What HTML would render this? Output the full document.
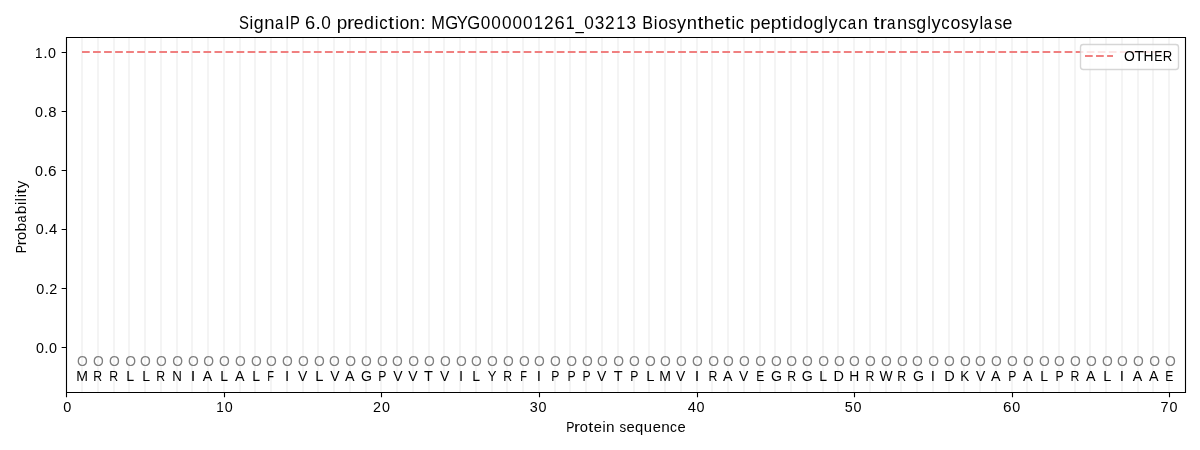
<!DOCTYPE html>
<html><head><meta charset="utf-8"><title>SignalP 6.0 prediction: MGYG000001261_03213</title>
<style>
html,body{margin:0;padding:0;background:#fff;width:1200px;height:450px;overflow:hidden}
svg{display:block;will-change:transform}
text{font-family:"Liberation Sans",sans-serif}
</style></head><body>
<svg width="1200" height="450" viewBox="0 0 1200 450" font-family="'Liberation Sans', sans-serif">
<rect width="1200" height="450" fill="#ffffff"/>
<path d="M82 37V392M98 37V392M114 37V392M129 37V392M145 37V392M161 37V392M177 37V392M192 37V392M208 37V392M224 37V392M240 37V392M255 37V392M271 37V392M287 37V392M303 37V392M318 37V392M334 37V392M350 37V392M366 37V392M381 37V392M397 37V392M413 37V392M429 37V392M444 37V392M460 37V392M476 37V392M492 37V392M507 37V392M523 37V392M539 37V392M555 37V392M570 37V392M586 37V392M602 37V392M618 37V392M634 37V392M649 37V392M665 37V392M681 37V392M697 37V392M712 37V392M728 37V392M744 37V392M760 37V392M775 37V392M791 37V392M807 37V392M823 37V392M838 37V392M854 37V392M870 37V392M886 37V392M901 37V392M917 37V392M933 37V392M949 37V392M964 37V392M980 37V392M996 37V392M1012 37V392M1027 37V392M1043 37V392M1059 37V392M1075 37V392M1090 37V392M1106 37V392M1122 37V392M1138 37V392M1153 37V392M1169 37V392" stroke="#f4f4f4" stroke-width="2.083" fill="none"/>
<path d="M82 52H1169" stroke="#f08080" stroke-width="2.083" stroke-dasharray="7.708 3.333" fill="none"/>
<path d="M66.5 392.5V37.5M1185.5 392.5V37.5M66.5 392.5H1185.5M66.5 37.5H1185.5" stroke="#000" stroke-width="1.111" stroke-linecap="square" fill="none"/>
<path d="M66.5 392.5v4.861M224.5 392.5v4.861M381.5 392.5v4.861M539.5 392.5v4.861M697.5 392.5v4.861M854.5 392.5v4.861M1012.5 392.5v4.861M1169.5 392.5v4.861M66.5 347.5h-4.861M66.5 288.5h-4.861M66.5 229.5h-4.861M66.5 170.5h-4.861M66.5 111.5h-4.861M66.5 52.5h-4.861" stroke="#000" stroke-width="1.111" fill="none"/>
<g transform="scale(1.3888889)">
<text font-size="10" text-anchor="middle" transform="translate(47.72 296.638) translate(0.769 -3.57) scale(1.0416 1.0652) translate(-0.032 3.438)">0</text>
<text font-size="10" transform="translate(161.168 296.638) translate(0.302 -3.57) scale(1 1.0652) translate(0 3.438)"><tspan x="-5.869" textLength="5.37" lengthAdjust="spacingAndGlyphs">1</tspan><tspan x="0.3" textLength="5.735" lengthAdjust="spacingAndGlyphs">0</tspan></text>
<text font-size="10" transform="translate(274.616 296.638) translate(0.202 -3.57) scale(1 1.0652) translate(0 3.438)"><tspan x="-6.218" textLength="5.747" lengthAdjust="spacingAndGlyphs">2</tspan><tspan x="0.3" textLength="5.735" lengthAdjust="spacingAndGlyphs">0</tspan></text>
<text font-size="10" transform="translate(388.064 296.638) translate(-0.675 -3.57) scale(1 1.0652) translate(0 3.438)"><tspan x="-6.057" textLength="5.741" lengthAdjust="spacingAndGlyphs">3</tspan><tspan x="0.3" textLength="5.735" lengthAdjust="spacingAndGlyphs">0</tspan></text>
<text font-size="10" transform="translate(501.512 296.638) translate(-0.353 -3.57) scale(1 1.0652) translate(0 3.438)"><tspan x="-6.056" textLength="5.899" lengthAdjust="spacingAndGlyphs">4</tspan><tspan x="0.3" textLength="5.735" lengthAdjust="spacingAndGlyphs">0</tspan></text>
<text font-size="10" transform="translate(614.959 296.638) translate(-0.706 -3.57) scale(1 1.0652) translate(0 3.438)"><tspan x="-6.057" textLength="5.741" lengthAdjust="spacingAndGlyphs">5</tspan><tspan x="0.3" textLength="5.735" lengthAdjust="spacingAndGlyphs">0</tspan></text>
<text font-size="10" transform="translate(728.407 296.638) translate(0.071 -3.57) scale(1 1.0652) translate(0 3.438)"><tspan x="-6.25" textLength="6.118" lengthAdjust="spacingAndGlyphs">6</tspan><tspan x="0.3" textLength="5.735" lengthAdjust="spacingAndGlyphs">0</tspan></text>
<text font-size="10" transform="translate(841.855 296.638) translate(-0.171 -3.57) scale(1 1.0652) translate(0 3.438)"><tspan x="-6.062" textLength="5.747" lengthAdjust="spacingAndGlyphs">7</tspan><tspan x="0.3" textLength="5.735" lengthAdjust="spacingAndGlyphs">0</tspan></text>
<text font-size="10" transform="translate(450.46 310.317) translate(0.252 -2.172) scale(1 1.0328) translate(0 2.578)"><tspan x="-42.942" textLength="5.908" lengthAdjust="spacingAndGlyphs">P</tspan><tspan x="-37.371" textLength="4.31" lengthAdjust="spacingAndGlyphs">r</tspan><tspan x="-33.28" textLength="5.92" lengthAdjust="spacingAndGlyphs">o</tspan><tspan x="-27.148" textLength="3.55" lengthAdjust="spacingAndGlyphs">t</tspan><tspan x="-23.251" textLength="5.92" lengthAdjust="spacingAndGlyphs">e</tspan><tspan x="-16.929" textLength="2.222" lengthAdjust="spacingAndGlyphs">i</tspan><tspan x="-14.376" textLength="6.157" lengthAdjust="spacingAndGlyphs">n</tspan><tspan x="-8.134"> </tspan><tspan x="-4.641" textLength="4.828" lengthAdjust="spacingAndGlyphs">s</tspan><tspan x="0.382" textLength="5.92" lengthAdjust="spacingAndGlyphs">e</tspan><tspan x="6.528" textLength="5.932" lengthAdjust="spacingAndGlyphs">q</tspan><tspan x="12.845" textLength="5.959" lengthAdjust="spacingAndGlyphs">u</tspan><tspan x="19.201" textLength="5.92" lengthAdjust="spacingAndGlyphs">e</tspan><tspan x="25.301" textLength="6.157" lengthAdjust="spacingAndGlyphs">n</tspan><tspan x="31.699" textLength="5" lengthAdjust="spacingAndGlyphs">c</tspan><tspan x="37.172" textLength="5.92" lengthAdjust="spacingAndGlyphs">e</tspan></text>
<text font-size="10" transform="translate(40.72 253.944) translate(0.696 -3.578) scale(1 1.0652) translate(0 3.438)"><tspan x="-15.591" textLength="5.735" lengthAdjust="spacingAndGlyphs">0</tspan><tspan x="-9.493" textLength="3.175" lengthAdjust="spacingAndGlyphs">.</tspan><tspan x="-6.06" textLength="5.735" lengthAdjust="spacingAndGlyphs">0</tspan></text>
<text font-size="10" transform="translate(40.72 211.418) translate(0.948 -3.525) scale(1 1.0652) translate(0 3.438)"><tspan x="-15.591" textLength="5.735" lengthAdjust="spacingAndGlyphs">0</tspan><tspan x="-9.493" textLength="3.175" lengthAdjust="spacingAndGlyphs">.</tspan><tspan x="-6.222" textLength="5.747" lengthAdjust="spacingAndGlyphs">2</tspan></text>
<text font-size="10" transform="translate(40.72 168.891) translate(0.675 -3.769) scale(1 1.0652) translate(0 3.438)"><tspan x="-15.591" textLength="5.735" lengthAdjust="spacingAndGlyphs">0</tspan><tspan x="-9.493" textLength="3.175" lengthAdjust="spacingAndGlyphs">.</tspan><tspan x="-6.059" textLength="5.899" lengthAdjust="spacingAndGlyphs">4</tspan></text>
<text font-size="10" transform="translate(40.72 126.364) translate(0.091 -3.507) scale(1 1.0652) translate(0 3.438)"><tspan x="-15.591" textLength="5.735" lengthAdjust="spacingAndGlyphs">0</tspan><tspan x="-9.493" textLength="3.175" lengthAdjust="spacingAndGlyphs">.</tspan><tspan x="-6.253" textLength="6.118" lengthAdjust="spacingAndGlyphs">6</tspan></text>
<text font-size="10" transform="translate(40.72 83.838) translate(0.081 -3.135) scale(1 1.0652) translate(0 3.438)"><tspan x="-15.591" textLength="5.735" lengthAdjust="spacingAndGlyphs">0</tspan><tspan x="-9.493" textLength="3.175" lengthAdjust="spacingAndGlyphs">.</tspan><tspan x="-6.07" textLength="5.92" lengthAdjust="spacingAndGlyphs">8</tspan></text>
<text font-size="10" transform="translate(40.72 41.311) translate(-0.091 -3.537) scale(1 1.0652) translate(0 3.438)"><tspan x="-15.403" textLength="5.37" lengthAdjust="spacingAndGlyphs">1</tspan><tspan x="-9.493" textLength="3.175" lengthAdjust="spacingAndGlyphs">.</tspan><tspan x="-6.06" textLength="5.735" lengthAdjust="spacingAndGlyphs">0</tspan></text>
<text font-size="10" transform="translate(18.737 154.46) rotate(-90) translate(-1.754 -2.581) scale(1 1.0328) translate(0 2.578)"><tspan x="-26.179" textLength="5.908" lengthAdjust="spacingAndGlyphs">P</tspan><tspan x="-20.608" textLength="4.31" lengthAdjust="spacingAndGlyphs">r</tspan><tspan x="-16.517" textLength="5.92" lengthAdjust="spacingAndGlyphs">o</tspan><tspan x="-10.471" textLength="6.329" lengthAdjust="spacingAndGlyphs">b</tspan><tspan x="-4.016" textLength="5.071" lengthAdjust="spacingAndGlyphs">a</tspan><tspan x="1.992" textLength="6.329" lengthAdjust="spacingAndGlyphs">b</tspan><tspan x="8.576" textLength="2.222" lengthAdjust="spacingAndGlyphs">i</tspan><tspan x="11.351" textLength="2.222" lengthAdjust="spacingAndGlyphs">l</tspan><tspan x="14.127" textLength="2.222" lengthAdjust="spacingAndGlyphs">i</tspan><tspan x="16.746" textLength="3.55" lengthAdjust="spacingAndGlyphs">t</tspan><tspan x="20.663" textLength="5.469" lengthAdjust="spacingAndGlyphs">y</tspan></text>
<text font-size="10" text-anchor="middle" fill="#808080" transform="translate(59.065 263.536) translate(0.332 -3.801) scale(0.9986 1.0652) translate(-0.017 3.438)">O</text>
<text font-size="10" text-anchor="middle" transform="translate(59.065 274.168) translate(0.034 -3.674) scale(1.0119 1.0444) translate(-0.054 3.516)">M</text>
<text font-size="10" text-anchor="middle" fill="#808080" transform="translate(70.41 263.536) translate(0.439 -3.801) scale(0.9984 1.0652) translate(-0.017 3.438)">O</text>
<text font-size="10" text-anchor="middle" transform="translate(70.41 274.168) translate(0.159 -3.674) scale(0.8822 1.0444) translate(-0.217 3.516)">R</text>
<text font-size="10" text-anchor="middle" fill="#808080" transform="translate(81.754 263.536) translate(0.712 -3.801) scale(0.9994 1.0652) translate(-0.017 3.438)">O</text>
<text font-size="10" text-anchor="middle" transform="translate(81.754 274.168) translate(0.377 -3.674) scale(0.8857 1.0444) translate(-0.217 3.516)">R</text>
<text font-size="10" text-anchor="middle" fill="#808080" transform="translate(93.099 263.536) translate(0.914 -3.801) scale(0.9994 1.0652) translate(-0.017 3.438)">O</text>
<text font-size="10" text-anchor="middle" transform="translate(93.099 274.168) translate(0.881 -3.674) scale(1.0234 1.0444) translate(-0.266 3.516)">L</text>
<text font-size="10" text-anchor="middle" fill="#808080" transform="translate(104.444 263.536) translate(0.34 -3.801) scale(0.9992 1.0652) translate(-0.017 3.438)">O</text>
<text font-size="10" text-anchor="middle" transform="translate(104.444 274.168) translate(1.031 -3.674) scale(1.0154 1.0444) translate(-0.266 3.516)">L</text>
<text font-size="10" text-anchor="middle" fill="#808080" transform="translate(115.789 263.536) translate(0.439 -3.801) scale(0.9982 1.0652) translate(-0.017 3.438)">O</text>
<text font-size="10" text-anchor="middle" transform="translate(115.789 274.168) translate(0.173 -3.674) scale(0.8855 1.0444) translate(-0.217 3.516)">R</text>
<text font-size="10" text-anchor="middle" fill="#808080" transform="translate(127.134 263.536) translate(0.71 -3.801) scale(0.9991 1.0652) translate(-0.017 3.438)">O</text>
<text font-size="10" text-anchor="middle" transform="translate(127.134 274.168) translate(0.378 -3.674) scale(0.9571 1.0444) translate(0.017 3.516)">N</text>
<text font-size="10" text-anchor="middle" fill="#808080" transform="translate(138.478 263.536) translate(0.772 -3.801) scale(0.9989 1.0652) translate(-0.017 3.438)">O</text>
<text font-size="10" text-anchor="middle" transform="translate(138.478 274.168) translate(0.426 -3.674) scale(1.1782 1.0444) translate(0.061 3.516)">I</text>
<text font-size="10" text-anchor="middle" fill="#808080" transform="translate(149.823 263.536) translate(0.34 -3.801) scale(0.9992 1.0652) translate(-0.017 3.438)">O</text>
<text font-size="10" text-anchor="middle" transform="translate(149.823 274.168) translate(-0.304 -3.674) scale(1.0278 1.0444) translate(-0.024 3.516)">A</text>
<text font-size="10" text-anchor="middle" fill="#808080" transform="translate(161.168 263.536) translate(0.485 -3.801) scale(0.9993 1.0652) translate(-0.017 3.438)">O</text>
<text font-size="10" text-anchor="middle" transform="translate(161.168 274.168) translate(0.392 -3.674) scale(1.0065 1.0444) translate(-0.266 3.516)">L</text>
<text font-size="10" text-anchor="middle" fill="#808080" transform="translate(172.513 263.536) translate(0.581 -3.801) scale(0.9992 1.0652) translate(-0.017 3.438)">O</text>
<text font-size="10" text-anchor="middle" transform="translate(172.513 274.168) translate(0.064 -3.674) scale(1.0274 1.0444) translate(-0.024 3.516)">A</text>
<text font-size="10" text-anchor="middle" fill="#808080" transform="translate(183.857 263.536) translate(0.775 -3.801) scale(0.9988 1.0652) translate(-0.017 3.438)">O</text>
<text font-size="10" text-anchor="middle" transform="translate(183.857 274.168) translate(0.798 -3.674) scale(1.0128 1.0444) translate(-0.266 3.516)">L</text>
<text font-size="10" text-anchor="middle" fill="#808080" transform="translate(195.202 263.536) translate(0.222 -3.801) scale(0.9990 1.0652) translate(-0.017 3.438)">O</text>
<text font-size="10" text-anchor="middle" transform="translate(195.202 274.168) translate(-0.11 -3.674) scale(0.7916 1.0444) translate(-0.227 3.516)">F</text>
<text font-size="10" text-anchor="middle" fill="#808080" transform="translate(206.547 263.536) translate(0.485 -3.801) scale(0.9992 1.0652) translate(-0.017 3.438)">O</text>
<text font-size="10" text-anchor="middle" transform="translate(206.547 274.168) translate(0.03 -3.674) scale(1.0842 1.0444) translate(0.061 3.516)">I</text>
<text font-size="10" text-anchor="middle" fill="#808080" transform="translate(217.892 263.536) translate(0.571 -3.801) scale(0.9989 1.0652) translate(-0.017 3.438)">O</text>
<text font-size="10" text-anchor="middle" transform="translate(217.892 274.168) translate(0.071 -3.674) scale(1.0047 1.0444) translate(-0.024 3.516)">V</text>
<text font-size="10" text-anchor="middle" fill="#808080" transform="translate(229.237 263.536) translate(0.774 -3.801) scale(0.9983 1.0652) translate(-0.017 3.438)">O</text>
<text font-size="10" text-anchor="middle" transform="translate(229.237 274.168) translate(0.898 -3.674) scale(1.0587 1.0444) translate(-0.266 3.516)">L</text>
<text font-size="10" text-anchor="middle" fill="#808080" transform="translate(240.581 263.536) translate(0.222 -3.801) scale(0.9990 1.0652) translate(-0.017 3.438)">O</text>
<text font-size="10" text-anchor="middle" transform="translate(240.581 274.168) translate(0.494 -3.674) scale(1.0062 1.0444) translate(-0.024 3.516)">V</text>
<text font-size="10" text-anchor="middle" fill="#808080" transform="translate(251.926 263.536) translate(0.484 -3.801) scale(0.9996 1.0652) translate(-0.017 3.438)">O</text>
<text font-size="10" text-anchor="middle" transform="translate(251.926 274.168) translate(-0.145 -3.674) scale(1.0278 1.0444) translate(-0.024 3.516)">A</text>
<text font-size="10" text-anchor="middle" fill="#808080" transform="translate(263.271 263.536) translate(0.586 -3.801) scale(0.9996 1.0652) translate(-0.017 3.438)">O</text>
<text font-size="10" text-anchor="middle" transform="translate(263.271 274.168) translate(0.48 -3.674) scale(1.0194 1.0652) translate(0.139 3.438)">G</text>
<text font-size="10" text-anchor="middle" fill="#808080" transform="translate(274.616 263.536) translate(0.778 -3.801) scale(0.9989 1.0652) translate(-0.017 3.438)">O</text>
<text font-size="10" text-anchor="middle" transform="translate(274.616 274.168) translate(0.871 -3.674) scale(0.8791 1.0444) translate(-0.181 3.516)">P</text>
<text font-size="10" text-anchor="middle" fill="#808080" transform="translate(285.961 263.536) translate(0.219 -3.801) scale(0.9997 1.0652) translate(-0.017 3.438)">O</text>
<text font-size="10" text-anchor="middle" transform="translate(285.961 274.168) translate(0.494 -3.674) scale(1.0062 1.0444) translate(-0.024 3.516)">V</text>
<text font-size="10" text-anchor="middle" fill="#808080" transform="translate(297.305 263.536) translate(0.477 -3.801) scale(0.9987 1.0652) translate(-0.017 3.438)">O</text>
<text font-size="10" text-anchor="middle" transform="translate(297.305 274.168) translate(-0.045 -3.674) scale(1.0063 1.0444) translate(-0.024 3.516)">V</text>
<text font-size="10" text-anchor="middle" fill="#808080" transform="translate(308.65 263.536) translate(0.586 -3.801) scale(0.9989 1.0652) translate(-0.017 3.438)">O</text>
<text font-size="10" text-anchor="middle" transform="translate(308.65 274.168) translate(-0.244 -3.674) scale(1.0501 1.0444) translate(0.007 3.516)">T</text>
<text font-size="10" text-anchor="middle" fill="#808080" transform="translate(319.995 263.536) translate(0.764 -3.801) scale(0.9984 1.0652) translate(-0.017 3.438)">O</text>
<text font-size="10" text-anchor="middle" transform="translate(319.995 274.168) translate(0.241 -3.674) scale(1.0062 1.0444) translate(-0.024 3.516)">V</text>
<text font-size="10" text-anchor="middle" fill="#808080" transform="translate(331.34 263.536) translate(0.909 -3.801) scale(0.9988 1.0652) translate(-0.017 3.438)">O</text>
<text font-size="10" text-anchor="middle" transform="translate(331.34 274.168) translate(0.517 -3.674) scale(1.0617 1.0444) translate(0.061 3.516)">I</text>
<text font-size="10" text-anchor="middle" fill="#808080" transform="translate(342.685 263.536) translate(0.343 -3.801) scale(0.9986 1.0652) translate(-0.017 3.438)">O</text>
<text font-size="10" text-anchor="middle" transform="translate(342.685 274.168) translate(0.372 -3.674) scale(1.0108 1.0444) translate(-0.266 3.516)">L</text>
<text font-size="10" text-anchor="middle" fill="#808080" transform="translate(354.029 263.536) translate(0.583 -3.801) scale(0.9996 1.0652) translate(-0.017 3.438)">O</text>
<text font-size="10" text-anchor="middle" transform="translate(354.029 274.168) translate(0.333 -3.674) scale(0.9402 1.0444) translate(-0.024 3.516)">Y</text>
<text font-size="10" text-anchor="middle" fill="#808080" transform="translate(365.374 263.536) translate(0.773 -3.801) scale(0.9983 1.0652) translate(-0.017 3.438)">O</text>
<text font-size="10" text-anchor="middle" transform="translate(365.374 274.168) translate(0.4 -3.674) scale(0.8825 1.0444) translate(-0.217 3.516)">R</text>
<text font-size="10" text-anchor="middle" fill="#808080" transform="translate(376.719 263.536) translate(0.91 -3.801) scale(0.9982 1.0652) translate(-0.017 3.438)">O</text>
<text font-size="10" text-anchor="middle" transform="translate(376.719 274.168) translate(0.505 -3.674) scale(0.7917 1.0444) translate(-0.227 3.516)">F</text>
<text font-size="10" text-anchor="middle" fill="#808080" transform="translate(388.064 263.536) translate(0.343 -3.801) scale(0.9986 1.0652) translate(-0.017 3.438)">O</text>
<text font-size="10" text-anchor="middle" transform="translate(388.064 274.168) translate(-0.042 -3.674) scale(1.1118 1.0444) translate(0.061 3.516)">I</text>
<text font-size="10" text-anchor="middle" fill="#808080" transform="translate(399.408 263.536) translate(0.582 -3.801) scale(0.9993 1.0652) translate(-0.017 3.438)">O</text>
<text font-size="10" text-anchor="middle" transform="translate(399.408 274.168) translate(0.638 -3.674) scale(0.8787 1.0444) translate(-0.181 3.516)">P</text>
<text font-size="10" text-anchor="middle" fill="#808080" transform="translate(410.753 263.536) translate(0.781 -3.801) scale(0.9987 1.0652) translate(-0.017 3.438)">O</text>
<text font-size="10" text-anchor="middle" transform="translate(410.753 274.168) translate(0.877 -3.674) scale(0.8804 1.0444) translate(-0.181 3.516)">P</text>
<text font-size="10" text-anchor="middle" fill="#808080" transform="translate(422.098 263.536) translate(0.912 -3.801) scale(0.9993 1.0652) translate(-0.017 3.438)">O</text>
<text font-size="10" text-anchor="middle" transform="translate(422.098 274.168) translate(0.332 -3.674) scale(0.8803 1.0444) translate(-0.181 3.516)">P</text>
<text font-size="10" text-anchor="middle" fill="#808080" transform="translate(433.443 263.536) translate(0.332 -3.801) scale(0.9986 1.0652) translate(-0.017 3.438)">O</text>
<text font-size="10" text-anchor="middle" transform="translate(433.443 274.168) translate(-0.159 -3.674) scale(1.0063 1.0444) translate(-0.024 3.516)">V</text>
<text font-size="10" text-anchor="middle" fill="#808080" transform="translate(444.788 263.536) translate(0.592 -3.801) scale(0.9989 1.0652) translate(-0.017 3.438)">O</text>
<text font-size="10" text-anchor="middle" transform="translate(444.788 274.168) translate(0.389 -3.674) scale(1.0500 1.0444) translate(0.007 3.516)">T</text>
<text font-size="10" text-anchor="middle" fill="#808080" transform="translate(456.132 263.536) translate(0.72 -3.801) scale(0.9995 1.0652) translate(-0.017 3.438)">O</text>
<text font-size="10" text-anchor="middle" transform="translate(456.132 274.168) translate(0.821 -3.674) scale(0.8788 1.0444) translate(-0.181 3.516)">P</text>
<text font-size="10" text-anchor="middle" fill="#808080" transform="translate(467.477 263.536) translate(0.914 -3.801) scale(0.9987 1.0652) translate(-0.017 3.438)">O</text>
<text font-size="10" text-anchor="middle" transform="translate(467.477 274.168) translate(0.968 -3.674) scale(1.0602 1.0444) translate(-0.266 3.516)">L</text>
<text font-size="10" text-anchor="middle" fill="#808080" transform="translate(478.822 263.536) translate(0.344 -3.801) scale(0.9996 1.0652) translate(-0.017 3.438)">O</text>
<text font-size="10" text-anchor="middle" transform="translate(478.822 274.168) translate(0.037 -3.674) scale(1.0116 1.0444) translate(-0.054 3.516)">M</text>
<text font-size="10" text-anchor="middle" fill="#808080" transform="translate(490.167 263.536) translate(0.452 -3.801) scale(0.9983 1.0652) translate(-0.017 3.438)">O</text>
<text font-size="10" text-anchor="middle" transform="translate(490.167 274.168) translate(-0.041 -3.674) scale(1.0049 1.0444) translate(-0.024 3.516)">V</text>
<text font-size="10" text-anchor="middle" fill="#808080" transform="translate(501.512 263.536) translate(0.718 -3.801) scale(0.9990 1.0652) translate(-0.017 3.438)">O</text>
<text font-size="10" text-anchor="middle" transform="translate(501.512 274.168) translate(0.293 -3.674) scale(1.1735 1.0444) translate(0.061 3.516)">I</text>
<text font-size="10" text-anchor="middle" fill="#808080" transform="translate(512.856 263.536) translate(0.914 -3.801) scale(0.9994 1.0652) translate(-0.017 3.438)">O</text>
<text font-size="10" text-anchor="middle" transform="translate(512.856 274.168) translate(0.588 -3.674) scale(0.8863 1.0444) translate(-0.217 3.516)">R</text>
<text font-size="10" text-anchor="middle" fill="#808080" transform="translate(524.201 263.536) translate(0.34 -3.801) scale(0.9992 1.0652) translate(-0.017 3.438)">O</text>
<text font-size="10" text-anchor="middle" transform="translate(524.201 274.168) translate(-0.183 -3.674) scale(1.0274 1.0444) translate(-0.024 3.516)">A</text>
<text font-size="10" text-anchor="middle" fill="#808080" transform="translate(535.546 263.536) translate(0.439 -3.801) scale(0.9984 1.0652) translate(-0.017 3.438)">O</text>
<text font-size="10" text-anchor="middle" transform="translate(535.546 274.168) translate(-0.041 -3.674) scale(1.0048 1.0444) translate(-0.024 3.516)">V</text>
<text font-size="10" text-anchor="middle" fill="#808080" transform="translate(546.891 263.536) translate(0.71 -3.801) scale(0.9991 1.0652) translate(-0.017 3.438)">O</text>
<text font-size="10" text-anchor="middle" transform="translate(546.891 274.168) translate(0.621 -3.674) scale(0.8716 1.0444) translate(-0.181 3.516)">E</text>
<text font-size="10" text-anchor="middle" fill="#808080" transform="translate(558.235 263.536) translate(0.776 -3.801) scale(0.9986 1.0652) translate(-0.017 3.438)">O</text>
<text font-size="10" text-anchor="middle" transform="translate(558.235 274.168) translate(0.666 -3.674) scale(1.0202 1.0652) translate(0.139 3.438)">G</text>
<text font-size="10" text-anchor="middle" fill="#808080" transform="translate(569.58 263.536) translate(0.344 -3.801) scale(0.9991 1.0652) translate(-0.017 3.438)">O</text>
<text font-size="10" text-anchor="middle" transform="translate(569.58 274.168) translate(0.701 -3.674) scale(0.8864 1.0444) translate(-0.217 3.516)">R</text>
<text font-size="10" text-anchor="middle" fill="#808080" transform="translate(580.925 263.536) translate(0.485 -3.801) scale(0.9993 1.0652) translate(-0.017 3.438)">O</text>
<text font-size="10" text-anchor="middle" transform="translate(580.925 274.168) translate(0.245 -3.674) scale(1.0217 1.0652) translate(0.139 3.438)">G</text>
<text font-size="10" text-anchor="middle" fill="#808080" transform="translate(592.27 263.536) translate(0.707 -3.801) scale(0.9993 1.0652) translate(-0.017 3.438)">O</text>
<text font-size="10" text-anchor="middle" transform="translate(592.27 274.168) translate(0.585 -3.674) scale(1.0120 1.0444) translate(-0.266 3.516)">L</text>
<text font-size="10" text-anchor="middle" fill="#808080" transform="translate(603.615 263.536) translate(0.775 -3.801) scale(0.9988 1.0652) translate(-0.017 3.438)">O</text>
<text font-size="10" text-anchor="middle" transform="translate(603.615 274.168) translate(0.405 -3.674) scale(1.0421 1.0444) translate(-0.217 3.516)">D</text>
<text font-size="10" text-anchor="middle" fill="#808080" transform="translate(614.959 263.536) translate(0.22 -3.801) scale(0.9983 1.0652) translate(-0.017 3.438)">O</text>
<text font-size="10" text-anchor="middle" transform="translate(614.959 274.168) translate(-0.01 -3.674) scale(0.9947 1.0444) translate(0.017 3.516)">H</text>
<text font-size="10" text-anchor="middle" fill="#808080" transform="translate(626.304 263.536) translate(0.485 -3.801) scale(0.9992 1.0652) translate(-0.017 3.438)">O</text>
<text font-size="10" text-anchor="middle" transform="translate(626.304 274.168) translate(0.181 -3.674) scale(0.8864 1.0444) translate(-0.217 3.516)">R</text>
<text font-size="10" text-anchor="middle" fill="#808080" transform="translate(637.649 263.536) translate(0.571 -3.801) scale(0.9989 1.0652) translate(-0.017 3.438)">O</text>
<text font-size="10" text-anchor="middle" transform="translate(637.649 274.168) translate(0.305 -3.674) scale(1.0025 1.0444) translate(-0.046 3.516)">W</text>
<text font-size="10" text-anchor="middle" fill="#808080" transform="translate(648.994 263.536) translate(0.778 -3.801) scale(0.9989 1.0652) translate(-0.017 3.438)">O</text>
<text font-size="10" text-anchor="middle" transform="translate(648.994 274.168) translate(0.485 -3.674) scale(0.8865 1.0444) translate(-0.217 3.516)">R</text>
<text font-size="10" text-anchor="middle" fill="#808080" transform="translate(660.339 263.536) translate(0.222 -3.801) scale(0.9990 1.0652) translate(-0.017 3.438)">O</text>
<text font-size="10" text-anchor="middle" transform="translate(660.339 274.168) translate(0.798 -3.674) scale(1.0202 1.0652) translate(0.139 3.438)">G</text>
<text font-size="10" text-anchor="middle" fill="#808080" transform="translate(671.683 263.536) translate(0.484 -3.801) scale(0.9990 1.0652) translate(-0.017 3.438)">O</text>
<text font-size="10" text-anchor="middle" transform="translate(671.683 274.168) translate(-0.007 -3.674) scale(1.0907 1.0444) translate(0.061 3.516)">I</text>
<text font-size="10" text-anchor="middle" fill="#808080" transform="translate(683.028 263.536) translate(0.591 -3.801) scale(0.9997 1.0652) translate(-0.017 3.438)">O</text>
<text font-size="10" text-anchor="middle" transform="translate(683.028 274.168) translate(0.908 -3.674) scale(1.0434 1.0444) translate(-0.217 3.516)">D</text>
<text font-size="10" text-anchor="middle" fill="#808080" transform="translate(694.373 263.536) translate(0.778 -3.801) scale(0.9989 1.0652) translate(-0.017 3.438)">O</text>
<text font-size="10" text-anchor="middle" transform="translate(694.373 274.168) translate(0.616 -3.674) scale(0.9700 1.0444) translate(-0.337 3.516)">K</text>
<text font-size="10" text-anchor="middle" fill="#808080" transform="translate(705.718 263.536) translate(0.222 -3.801) scale(0.9999 1.0652) translate(-0.017 3.438)">O</text>
<text font-size="10" text-anchor="middle" transform="translate(705.718 274.168) translate(0.392 -3.674) scale(1.0053 1.0444) translate(-0.024 3.516)">V</text>
<text font-size="10" text-anchor="middle" fill="#808080" transform="translate(717.063 263.536) translate(0.346 -3.801) scale(0.9986 1.0652) translate(-0.017 3.438)">O</text>
<text font-size="10" text-anchor="middle" transform="translate(717.063 274.168) translate(-0.145 -3.674) scale(1.0278 1.0444) translate(-0.024 3.516)">A</text>
<text font-size="10" text-anchor="middle" fill="#808080" transform="translate(728.407 263.536) translate(0.586 -3.801) scale(0.9989 1.0652) translate(-0.017 3.438)">O</text>
<text font-size="10" text-anchor="middle" transform="translate(728.407 274.168) translate(0.711 -3.674) scale(0.8789 1.0444) translate(-0.181 3.516)">P</text>
<text font-size="10" text-anchor="middle" fill="#808080" transform="translate(739.752 263.536) translate(0.781 -3.801) scale(0.9987 1.0652) translate(-0.017 3.438)">O</text>
<text font-size="10" text-anchor="middle" transform="translate(739.752 274.168) translate(0.248 -3.674) scale(1.0280 1.0444) translate(-0.024 3.516)">A</text>
<text font-size="10" text-anchor="middle" fill="#808080" transform="translate(751.097 263.536) translate(0.91 -3.801) scale(0.9982 1.0652) translate(-0.017 3.438)">O</text>
<text font-size="10" text-anchor="middle" transform="translate(751.097 274.168) translate(0.927 -3.674) scale(1.0139 1.0444) translate(-0.266 3.516)">L</text>
<text font-size="10" text-anchor="middle" fill="#808080" transform="translate(762.442 263.536) translate(0.343 -3.801) scale(0.9986 1.0652) translate(-0.017 3.438)">O</text>
<text font-size="10" text-anchor="middle" transform="translate(762.442 274.168) translate(0.543 -3.674) scale(0.8807 1.0444) translate(-0.181 3.516)">P</text>
<text font-size="10" text-anchor="middle" fill="#808080" transform="translate(773.786 263.536) translate(0.586 -3.801) scale(0.9989 1.0652) translate(-0.017 3.438)">O</text>
<text font-size="10" text-anchor="middle" transform="translate(773.786 274.168) translate(0.282 -3.674) scale(0.8858 1.0444) translate(-0.217 3.516)">R</text>
<text font-size="10" text-anchor="middle" fill="#808080" transform="translate(785.131 263.536) translate(0.779 -3.801) scale(0.9994 1.0652) translate(-0.017 3.438)">O</text>
<text font-size="10" text-anchor="middle" transform="translate(785.131 274.168) translate(0.241 -3.674) scale(1.0281 1.0444) translate(-0.024 3.516)">A</text>
<text font-size="10" text-anchor="middle" fill="#808080" transform="translate(796.476 263.536) translate(0.909 -3.801) scale(0.9988 1.0652) translate(-0.017 3.438)">O</text>
<text font-size="10" text-anchor="middle" transform="translate(796.476 274.168) translate(0.969 -3.674) scale(1.0401 1.0444) translate(-0.266 3.516)">L</text>
<text font-size="10" text-anchor="middle" fill="#808080" transform="translate(807.821 263.536) translate(0.352 -3.801) scale(0.9997 1.0652) translate(-0.017 3.438)">O</text>
<text font-size="10" text-anchor="middle" transform="translate(807.821 274.168) translate(-0.042 -3.674) scale(1.1118 1.0444) translate(0.061 3.516)">I</text>
<text font-size="10" text-anchor="middle" fill="#808080" transform="translate(819.166 263.536) translate(0.582 -3.801) scale(0.9993 1.0652) translate(-0.017 3.438)">O</text>
<text font-size="10" text-anchor="middle" transform="translate(819.166 274.168) translate(-0.058 -3.674) scale(1.0278 1.0444) translate(-0.024 3.516)">A</text>
<text font-size="10" text-anchor="middle" fill="#808080" transform="translate(830.51 263.536) translate(0.781 -3.801) scale(0.9987 1.0652) translate(-0.017 3.438)">O</text>
<text font-size="10" text-anchor="middle" transform="translate(830.51 274.168) translate(0.218 -3.674) scale(1.0280 1.0444) translate(-0.024 3.516)">A</text>
<text font-size="10" text-anchor="middle" fill="#808080" transform="translate(841.855 263.536) translate(0.912 -3.801) scale(0.9993 1.0652) translate(-0.017 3.438)">O</text>
<text font-size="10" text-anchor="middle" transform="translate(841.855 274.168) translate(0.206 -3.674) scale(0.8792 1.0444) translate(-0.181 3.516)">E</text>
<text font-size="12" transform="translate(450.46 20.88) translate(-0.081 -3.542) scale(1 1.0656) translate(0 3.094)"><tspan x="-278.289" textLength="7.161" lengthAdjust="spacingAndGlyphs">S</tspan><tspan x="-270.73" textLength="2.666" lengthAdjust="spacingAndGlyphs">i</tspan><tspan x="-267.617" textLength="7.119" lengthAdjust="spacingAndGlyphs">g</tspan><tspan x="-260.074" textLength="7.389" lengthAdjust="spacingAndGlyphs">n</tspan><tspan x="-252.374" textLength="6.085" lengthAdjust="spacingAndGlyphs">a</tspan><tspan x="-244.885" textLength="2.666" lengthAdjust="spacingAndGlyphs">l</tspan><tspan x="-241.64" textLength="7.089" lengthAdjust="spacingAndGlyphs">P</tspan><tspan x="-234.716"> </tspan><tspan x="-230.78" textLength="7.341" lengthAdjust="spacingAndGlyphs">6</tspan><tspan x="-223.242" textLength="3.81" lengthAdjust="spacingAndGlyphs">.</tspan><tspan x="-219.127" textLength="6.882" lengthAdjust="spacingAndGlyphs">0</tspan><tspan x="-211.875"> </tspan><tspan x="-207.986" textLength="7.594" lengthAdjust="spacingAndGlyphs">p</tspan><tspan x="-200.505" textLength="5.171" lengthAdjust="spacingAndGlyphs">r</tspan><tspan x="-195.657" textLength="7.104" lengthAdjust="spacingAndGlyphs">e</tspan><tspan x="-188.294" textLength="7.119" lengthAdjust="spacingAndGlyphs">d</tspan><tspan x="-180.483" textLength="2.666" lengthAdjust="spacingAndGlyphs">i</tspan><tspan x="-177.345" textLength="6" lengthAdjust="spacingAndGlyphs">c</tspan><tspan x="-170.764" textLength="4.26" lengthAdjust="spacingAndGlyphs">t</tspan><tspan x="-165.883" textLength="2.666" lengthAdjust="spacingAndGlyphs">i</tspan><tspan x="-162.769" textLength="7.104" lengthAdjust="spacingAndGlyphs">o</tspan><tspan x="-155.502" textLength="7.389" lengthAdjust="spacingAndGlyphs">n</tspan><tspan x="-147.781" textLength="3.81" lengthAdjust="spacingAndGlyphs">:</tspan><tspan x="-143.989"> </tspan><tspan x="-139.976" textLength="9.769" lengthAdjust="spacingAndGlyphs">M</tspan><tspan x="-129.857" textLength="9.334" lengthAdjust="spacingAndGlyphs">G</tspan><tspan x="-121.586" textLength="8.004" lengthAdjust="spacingAndGlyphs">Y</tspan><tspan x="-113.9" textLength="9.334" lengthAdjust="spacingAndGlyphs">G</tspan><tspan x="-104.261" textLength="6.882" lengthAdjust="spacingAndGlyphs">0</tspan><tspan x="-96.645" textLength="6.882" lengthAdjust="spacingAndGlyphs">0</tspan><tspan x="-89.029" textLength="6.882" lengthAdjust="spacingAndGlyphs">0</tspan><tspan x="-81.414" textLength="6.882" lengthAdjust="spacingAndGlyphs">0</tspan><tspan x="-73.798" textLength="6.882" lengthAdjust="spacingAndGlyphs">0</tspan><tspan x="-65.957" textLength="6.444" lengthAdjust="spacingAndGlyphs">1</tspan><tspan x="-58.761" textLength="6.896" lengthAdjust="spacingAndGlyphs">2</tspan><tspan x="-51.183" textLength="7.341" lengthAdjust="spacingAndGlyphs">6</tspan><tspan x="-43.11" textLength="6.444" lengthAdjust="spacingAndGlyphs">1</tspan><tspan x="-36.103" textLength="5.971" lengthAdjust="spacingAndGlyphs">_</tspan><tspan x="-29.735" textLength="6.882" lengthAdjust="spacingAndGlyphs">0</tspan><tspan x="-22.119" textLength="6.889" lengthAdjust="spacingAndGlyphs">3</tspan><tspan x="-14.698" textLength="6.896" lengthAdjust="spacingAndGlyphs">2</tspan><tspan x="-6.662" textLength="6.444" lengthAdjust="spacingAndGlyphs">1</tspan><tspan x="0.728" textLength="6.889" lengthAdjust="spacingAndGlyphs">3</tspan><tspan x="7.981"> </tspan><tspan x="12" textLength="7.775" lengthAdjust="spacingAndGlyphs">B</tspan><tspan x="20.372" textLength="2.666" lengthAdjust="spacingAndGlyphs">i</tspan><tspan x="23.486" textLength="7.104" lengthAdjust="spacingAndGlyphs">o</tspan><tspan x="31.028" textLength="5.793" lengthAdjust="spacingAndGlyphs">s</tspan><tspan x="37.07" textLength="6.562" lengthAdjust="spacingAndGlyphs">y</tspan><tspan x="44.074" textLength="7.389" lengthAdjust="spacingAndGlyphs">n</tspan><tspan x="51.74" textLength="4.26" lengthAdjust="spacingAndGlyphs">t</tspan><tspan x="56.353" textLength="7.389" lengthAdjust="spacingAndGlyphs">h</tspan><tspan x="63.996" textLength="7.104" lengthAdjust="spacingAndGlyphs">e</tspan><tspan x="71.385" textLength="4.26" lengthAdjust="spacingAndGlyphs">t</tspan><tspan x="76.265" textLength="2.666" lengthAdjust="spacingAndGlyphs">i</tspan><tspan x="79.404" textLength="6" lengthAdjust="spacingAndGlyphs">c</tspan><tspan x="85.797"> </tspan><tspan x="89.686" textLength="7.594" lengthAdjust="spacingAndGlyphs">p</tspan><tspan x="97.364" textLength="7.104" lengthAdjust="spacingAndGlyphs">e</tspan><tspan x="104.649" textLength="7.594" lengthAdjust="spacingAndGlyphs">p</tspan><tspan x="112.35" textLength="4.26" lengthAdjust="spacingAndGlyphs">t</tspan><tspan x="117.231" textLength="2.666" lengthAdjust="spacingAndGlyphs">i</tspan><tspan x="120.344" textLength="7.119" lengthAdjust="spacingAndGlyphs">d</tspan><tspan x="127.943" textLength="7.104" lengthAdjust="spacingAndGlyphs">o</tspan><tspan x="135.266" textLength="7.119" lengthAdjust="spacingAndGlyphs">g</tspan><tspan x="143.077" textLength="2.666" lengthAdjust="spacingAndGlyphs">l</tspan><tspan x="146.215" textLength="6.562" lengthAdjust="spacingAndGlyphs">y</tspan><tspan x="153.298" textLength="6" lengthAdjust="spacingAndGlyphs">c</tspan><tspan x="159.913" textLength="6.085" lengthAdjust="spacingAndGlyphs">a</tspan><tspan x="167.134" textLength="7.389" lengthAdjust="spacingAndGlyphs">n</tspan><tspan x="174.614"> </tspan><tspan x="178.606" textLength="4.26" lengthAdjust="spacingAndGlyphs">t</tspan><tspan x="183.079" textLength="5.171" lengthAdjust="spacingAndGlyphs">r</tspan><tspan x="188.254" textLength="6.085" lengthAdjust="spacingAndGlyphs">a</tspan><tspan x="195.475" textLength="7.389" lengthAdjust="spacingAndGlyphs">n</tspan><tspan x="203.336" textLength="5.793" lengthAdjust="spacingAndGlyphs">s</tspan><tspan x="209.354" textLength="7.119" lengthAdjust="spacingAndGlyphs">g</tspan><tspan x="217.164" textLength="2.666" lengthAdjust="spacingAndGlyphs">l</tspan><tspan x="220.302" textLength="6.562" lengthAdjust="spacingAndGlyphs">y</tspan><tspan x="227.386" textLength="6" lengthAdjust="spacingAndGlyphs">c</tspan><tspan x="233.943" textLength="7.104" lengthAdjust="spacingAndGlyphs">o</tspan><tspan x="241.485" textLength="5.793" lengthAdjust="spacingAndGlyphs">s</tspan><tspan x="247.527" textLength="6.562" lengthAdjust="spacingAndGlyphs">y</tspan><tspan x="254.798" textLength="2.666" lengthAdjust="spacingAndGlyphs">l</tspan><tspan x="257.97" textLength="6.085" lengthAdjust="spacingAndGlyphs">a</tspan><tspan x="265.466" textLength="5.793" lengthAdjust="spacingAndGlyphs">s</tspan><tspan x="271.484" textLength="7.104" lengthAdjust="spacingAndGlyphs">e</tspan></text>
</g>
<path d="M1083.278 44.5H1175.722Q1178.5 44.5 1178.5 47.278V66.722Q1178.5 69.5 1175.722 69.5H1083.278Q1080.5 69.5 1080.5 66.722V47.278Q1080.5 44.5 1083.278 44.5Z" fill="#fff" fill-opacity="0.8" stroke="#ccc" stroke-opacity="0.8" stroke-width="1.389"/>
<path d="M1085 56H1113" stroke="#f08080" stroke-width="2.083" stroke-dasharray="7.708 3.333" fill="none"/>
<g transform="scale(1.3888889)">
<text font-size="10" transform="translate(809.433 43.478) translate(-0.161 -3.189) scale(1 1.0652) translate(0 3.438)"><tspan x="0" textLength="7.778" lengthAdjust="spacingAndGlyphs">O</tspan><tspan x="7.534" textLength="6.769" lengthAdjust="spacingAndGlyphs">T</tspan><tspan x="14.122" textLength="7.222" lengthAdjust="spacingAndGlyphs">H</tspan><tspan x="21.723" textLength="5.908" lengthAdjust="spacingAndGlyphs">E</tspan><tspan x="27.986" textLength="6.851" lengthAdjust="spacingAndGlyphs">R</tspan></text>
</g>
</svg>
</body></html>
